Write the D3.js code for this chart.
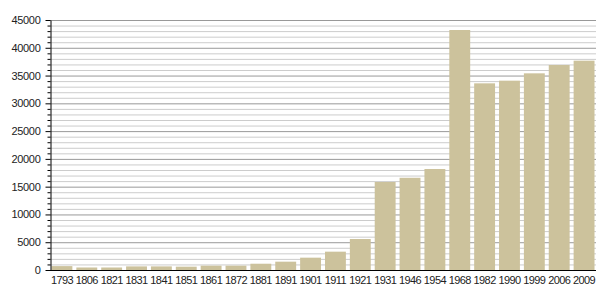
<!DOCTYPE html>
<html><head><meta charset="utf-8">
<script src="https://cdn.jsdelivr.net/npm/d3@7"></script>
<style>body{margin:0;background:#fff}text{font-family:"Liberation Sans",Arial,sans-serif}</style>
</head><body><svg id="c" width="605" height="300"></svg>
<script>
const years = ["1793","1806","1821","1831","1841","1851","1861","1872","1881","1891","1901","1911","1921","1931","1946","1954","1968","1982","1990","1999","2006","2009"];
const population = [700,450,450,650,650,600,780,780,1130,1500,2220,3300,5580,15840,16600,18180,43200,33600,34080,35400,36900,37680];
const yTicks = [0,5000,10000,15000,20000,25000,30000,35000,40000,45000];

const svg = d3.select("#c");
const m = {l:50, r:9, t:20, b:30};
const W = 605, H = 300;
const x = d3.scaleBand().domain(years).range([m.l, W-m.r]).paddingInner(0.16).paddingOuter(0.06);
const y = d3.scaleLinear().domain([0,45000]).range([H-m.b, m.t]);

const minor = d3.range(1000, 45001, 1000).filter(v => v % 5000 !== 0);
svg.append("g").selectAll("line").data(minor).join("line")
  .attr("x1", m.l).attr("x2", W-m.r).attr("y1", d=>y(d)+0.5).attr("y2", d=>y(d)+0.5)
  .attr("stroke", "#ccc").attr("stroke-width", 1);
svg.append("g").selectAll("line").data(yTicks.filter(d=>d>0)).join("line")
  .attr("x1", m.l).attr("x2", W-m.r).attr("y1", d=>y(d)+0.5).attr("y2", d=>y(d)+0.5)
  .attr("stroke", "#999").attr("stroke-width", 1);

svg.append("g").selectAll("rect").data(years).join("rect")
  .attr("x", d=>x(d)).attr("width", x.bandwidth())
  .attr("y", (d,i)=>y(population[i])).attr("height", (d,i)=>y(0)-y(population[i]))
  .attr("fill", "#ccc29c");

// y axis minor ticks
svg.append("g").attr("transform", `translate(${m.l+0.5},0)`)
  .call(d3.axisLeft(y).tickValues(minor).tickSize(3).tickFormat(""))
  .call(g=>g.select(".domain").remove());
svg.append("g").attr("transform", `translate(${m.l+0.5},0)`)
  .call(d3.axisLeft(y).tickValues(yTicks).tickSize(5).tickSizeOuter(0).tickPadding(5).tickFormat(d3.format("d")))
  .call(g=>g.selectAll("text").attr("font-size", 11).attr("letter-spacing", -0.3).attr("fill", "#222"));

svg.append("g").attr("transform", `translate(0,${y(0)+0.5})`)
  .call(d3.axisBottom(x).tickSize(0).tickSizeOuter(0).tickPadding(6))
  .call(g=>g.select(".domain").attr("d", `M${m.l},0H${W-m.r}`))
  .call(g=>g.selectAll("text").attr("font-size", 11).attr("letter-spacing", -0.6).attr("fill", "#222"));
</script></body></html>
